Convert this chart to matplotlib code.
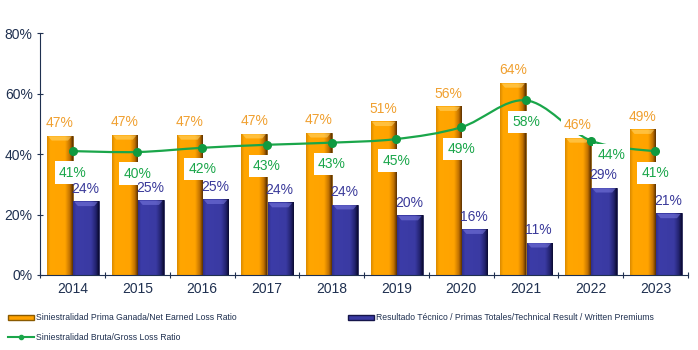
import numpy as np
import matplotlib
matplotlib.use("Agg")
import matplotlib.pyplot as plt
from matplotlib.path import Path
from matplotlib.patches import PathPatch, Patch
from matplotlib.lines import Line2D
import matplotlib.colors as mcolors

years = ["2014", "2015", "2016", "2017", "2018", "2019", "2020", "2021", "2022", "2023"]
net_loss = [46.1, 46.4, 46.4, 46.8, 47.1, 50.9, 55.9, 63.6, 45.4, 48.3]
net_labels = ["47%", "47%", "47%", "47%", "47%", "51%", "56%", "64%", "46%", "49%"]
tech_result = [24.4, 24.8, 25.1, 24.0, 23.3, 19.7, 15.2, 10.7, 28.9, 20.4]
tech_labels = ["24%", "25%", "25%", "24%", "24%", "20%", "16%", "11%", "29%", "21%"]
gross_loss = [41.0, 40.7, 42.1, 43.1, 43.8, 45.0, 48.9, 57.8, 44.5, 40.9]
gross_labels = ["41%", "40%", "42%", "43%", "43%", "45%", "49%", "58%", "44%", "41%"]
yticks = [0, 20, 40, 60, 80]
ytick_labels = ["0%", "20%", "40%", "60%", "80%"]
legend_labels = ["Siniestralidad Prima Ganada/Net Earned Loss Ratio",
                 "Resultado Técnico / Primas Totales/Technical Result / Written Premiums",
                 "Siniestralidad Bruta/Gross Loss Ratio"]

plt.rcParams['font.family'] = ['Liberation Sans', 'DejaVu Sans']
navy = "#1F3050"
orange = "#FFA200"
blue = "#3A3AA2"
green = "#1AA64A"

fig = plt.figure(figsize=(6.98, 3.5), dpi=100)
ax = fig.add_axes([0.0577, 0.2143, 0.9277, 0.6906])

x = np.arange(len(years))
w = 0.394

def gradient_bars(bars, stops, bevel):
    cmap = mcolors.LinearSegmentedColormap.from_list("g", stops)
    grad = np.linspace(0, 1, 128).reshape(1, -1)
    for b in bars:
        x0, y0 = b.get_x(), b.get_y()
        bw, bh = b.get_width(), b.get_height()
        im = ax.imshow(grad, cmap=cmap, aspect="auto",
                       extent=[x0, x0 + bw, y0, y0 + bh], zorder=2,
                       interpolation="bilinear")
        im.set_clip_path(b)
        ax.fill([x0 + bw * 0.04, x0 + bw * 0.96, x0 + bw * 0.82, x0 + bw * 0.18],
                [y0 + bh - 0.2, y0 + bh - 0.2, y0 + bh - 1.6, y0 + bh - 1.6],
                color=bevel, alpha=0.55, zorder=3, linewidth=0)

b1 = ax.bar(x - w / 2, net_loss, width=w, color=orange, edgecolor="#6a4000",
            linewidth=0.5, zorder=2)
b2 = ax.bar(x + w / 2 + 0.01, tech_result, width=w, color=blue, edgecolor="#10103a",
            linewidth=0.5, zorder=2)
gradient_bars(b1, [(0, "#D98A00"), (0.12, "#FFA600"), (0.7, "#FFA300"),
                   (0.88, "#C27200"), (1.0, "#5A3000")], "#FFD870")
gradient_bars(b2, [(0, "#2E2E8C"), (0.12, "#3C3CA8"), (0.7, "#3A3AA2"),
                   (0.88, "#232370"), (1.0, "#0A0A30")], "#7A7AE0")

# smooth green line (Catmull-Rom to Bezier)
pts = np.column_stack([x, gross_loss]).astype(float)
verts = [tuple(pts[0])]
codes = [Path.MOVETO]
n = len(pts)
for i in range(n - 1):
    p0 = pts[i - 1] if i > 0 else pts[i]
    p1 = pts[i]
    p2 = pts[i + 1]
    p3 = pts[i + 2] if i + 2 < n else pts[i + 1]
    c1 = p1 + (p2 - p0) / 6.0
    c2 = p2 - (p3 - p1) / 6.0
    verts += [tuple(c1), tuple(c2), tuple(p2)]
    codes += [Path.CURVE4] * 3
ax.add_patch(PathPatch(Path(verts, codes), facecolor="none", edgecolor=green,
                       linewidth=1.6, zorder=4))
ax.plot(x, gross_loss, "o", color="#109A40", markersize=5.5, zorder=5)

fs = 10
box = dict(boxstyle="square,pad=0.2", fc="white", ec="none")
for i in range(n):
    ax.annotate(net_labels[i], (x[i] - w / 2, net_loss[i]), xytext=(0, 4),
                textcoords="offset points", ha="center", va="bottom",
                color="#F0A030", fontsize=fs, zorder=6, bbox=box)
    ax.annotate(tech_labels[i], (x[i] + w / 2, tech_result[i]), xytext=(0, 4),
                textcoords="offset points", ha="center", va="bottom",
                color="#3A3A9A", fontsize=fs, zorder=8)
    dx, dy = (0, -15.5)
    if i == 8:
        dx, dy = (15, -10.5)
    ax.annotate(gross_labels[i], (x[i], gross_loss[i]), xytext=(dx, dy),
                textcoords="offset points", ha="center", va="center",
                color=green, fontsize=fs, zorder=6,
                bbox=dict(boxstyle="square,pad=0.3", fc="white", ec="none"))

ax.set_xlim(-0.5, n - 0.5)
ax.set_ylim(0, 80)
ax.set_yticks(yticks)
ax.set_yticklabels(ytick_labels, color=navy, fontsize=fs)
ax.set_xticks(np.arange(-0.5, n, 1.0))
ax.set_xticklabels([])
ax.set_xticks(x, minor=True)
ax.set_xticklabels(years, minor=True, color=navy, fontsize=fs)
ax.tick_params(axis="x", which="minor", length=0, pad=5)
ax.tick_params(axis="x", which="major", length=5, direction="inout", color=navy)
ax.tick_params(axis="y", length=5, direction="inout", color=navy, pad=3)
for s in ["top", "right"]:
    ax.spines[s].set_visible(False)
ax.spines["left"].set_color(navy)
ax.spines["bottom"].set_color(navy)

lfs = 6.2
leg_kw = dict(frameon=False, fontsize=lfs, handlelength=3.0, handletextpad=0.3,
              borderaxespad=0, borderpad=0, labelcolor=navy)
h1 = Patch(facecolor=orange, edgecolor="#8a5a00")
h2 = Patch(facecolor=blue, edgecolor="#15154a")
h3 = Line2D([], [], color=green, marker="o", markersize=3, linewidth=1.5)
l1 = fig.legend([h1], [legend_labels[0]], loc="center left",
                bbox_to_anchor=(8 / 698, 1 - 318 / 350), handleheight=0.5, **leg_kw)
l2 = fig.legend([h2], [legend_labels[1]], loc="center left",
                bbox_to_anchor=(348 / 698, 1 - 318 / 350), handleheight=0.5, **leg_kw)
l3 = fig.legend([h3], [legend_labels[2]], loc="center left",
                bbox_to_anchor=(8 / 698, 1 - 338 / 350), **leg_kw)

fig.savefig("out.png", dpi=100)
